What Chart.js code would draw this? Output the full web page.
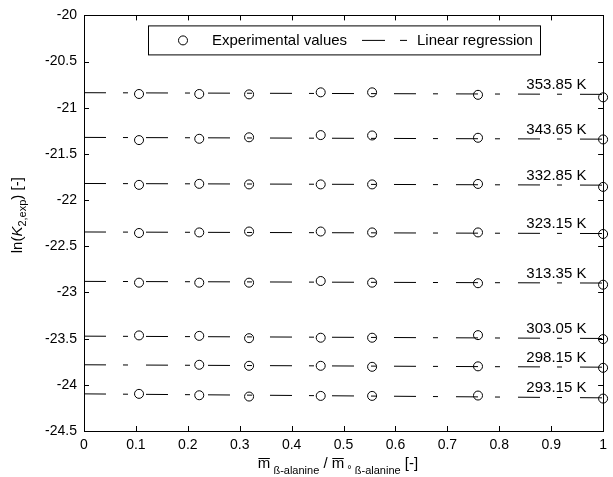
<!DOCTYPE html>
<html>
<head>
<meta charset="utf-8">
<script src="https://cdn.jsdelivr.net/npm/chart.js@4/dist/chart.umd.min.js"></script>
<style>
   html,body{margin:0;padding:0;background:#fff;}
   canvas{display:block;}
</style>
</head>
<body>
<canvas id="myChart" width="613" height="477"></canvas>
<script>
/*------------------------ datos ----------------------------------------------*/
var xValues = [0.106, 0.222, 0.318, 0.456, 0.555, 0.759, 1.0];
var temperaturas = ['353.85 K','343.65 K','332.85 K','323.15 K','313.35 K','303.05 K','298.15 K','293.15 K'];

var ln353 = [-20.851, -20.851, -20.855, -20.833, -20.833, -20.860, -20.887];
var ln343 = [-21.350, -21.336, -21.320, -21.296, -21.300, -21.325, -21.343];
var ln332 = [-21.835, -21.824, -21.830, -21.830, -21.830, -21.825, -21.857];
var ln323 = [-22.356, -22.350, -22.340, -22.340, -22.350, -22.350, -22.367];
var ln313 = [-22.894, -22.894, -22.894, -22.876, -22.894, -22.900, -22.916];
var ln303 = [-23.465, -23.470, -23.495, -23.490, -23.490, -23.462, -23.505];
var ln298 = [null, -23.783, -23.794, -23.794, -23.805, -23.800, -23.816];
var ln293 = [-24.098, -24.113, -24.127, -24.120, -24.120, -24.116, -24.149];

// regresion lineal: valor en x=0 y en x=1
var regInicio = [-20.837, -21.321, -21.820, -22.345, -22.880, -23.473, -23.783, -24.098];
var regFin    = [-20.855, -21.340, -21.838, -22.362, -22.898, -23.498, -23.809, -24.141];

var xTicks = [0, 0.1, 0.2, 0.3, 0.4, 0.5, 0.6, 0.7, 0.8, 0.9, 1];
var yTicks = [-24.5, -24, -23.5, -23, -22.5, -22, -21.5, -21, -20.5, -20];

var series = [ln353, ln343, ln332, ln323, ln313, ln303, ln298, ln293];

var fuente = "'Liberation Sans', Arial, sans-serif";
var guion = [22, 17, 5, 18];

/*------------------------ armando los datasets --------------------------*/
var datasets = [];
series.forEach((s, i) => {
   datasets.push({
      type: 'scatter',
      label: 'exp ' + temperaturas[i],
      data: xValues.map((x, j) => s[j] === null ? null : {x: x, y: s[j]}).filter(p => p !== null),
      pointStyle: 'circle',
      pointRadius: 4.5,
      pointBorderWidth: 1,
      borderColor: '#000',
      backgroundColor: 'rgba(0,0,0,0)',
      showLine: false,
      clip: false
   });
   datasets.push({
      type: 'scatter',
      label: 'reg ' + temperaturas[i],
      data: [{x: 0, y: regInicio[i]}, {x: 1, y: regFin[i]}],
      showLine: true,
      borderColor: '#000',
      borderWidth: 1,
      borderDash: guion,
      pointRadius: 0
   });
});

/*------------------------ plugin: marco, ticks, etiquetas y leyenda --------------------------*/
var extras = {
   id: 'extras',
   afterDraw: (chart) => {
      var ctx = chart.ctx;
      var a = chart.chartArea;
      var xs = chart.scales.x, ys = chart.scales.y;
      ctx.save();
      ctx.strokeStyle = '#000';
      ctx.lineWidth = 1;
      ctx.setLineDash([]);
      ctx.strokeRect(Math.round(a.left) + 0.5, Math.round(a.top) + 0.5, Math.round(a.right - a.left), Math.round(a.bottom - a.top));

      // ticks hacia adentro en los 4 lados
      ctx.beginPath();
      xTicks.forEach(v => {
         var px = Math.round(xs.getPixelForValue(v)) + 0.5;
         ctx.moveTo(px, a.bottom); ctx.lineTo(px, a.bottom - 5);
         ctx.moveTo(px, a.top); ctx.lineTo(px, a.top + 5);
      });
      yTicks.forEach(v => {
         var py = Math.round(ys.getPixelForValue(v)) + 0.5;
         ctx.moveTo(a.left, py); ctx.lineTo(a.left + 5, py);
         ctx.moveTo(a.right, py); ctx.lineTo(a.right - 5, py);
      });
      ctx.stroke();

      // etiquetas de temperatura
      ctx.fillStyle = '#000';
      ctx.font = '15px ' + fuente;
      ctx.textAlign = 'center';
      ctx.textBaseline = 'alphabetic';
      temperaturas.forEach((t, i) => {
         var xv = 0.91;
         var yv = regInicio[i] + (regFin[i] - regInicio[i]) * xv;
         ctx.fillText(t, xs.getPixelForValue(xv), ys.getPixelForValue(yv) - 5);
      });

      // leyenda con caja
      var lx = a.left + 64, ly = a.top + 10, lw = 392, lh = 29;
      ctx.fillStyle = '#fff';
      ctx.fillRect(lx, ly, lw, lh);
      ctx.strokeRect(lx + 0.5, ly + 0.5, lw, lh);
      var cy = ly + lh / 2 + 0.5;
      ctx.beginPath();
      ctx.arc(lx + 35, cy, 4.5, 0, Math.PI * 2);
      ctx.stroke();
      ctx.fillStyle = '#000';
      ctx.textAlign = 'left';
      ctx.textBaseline = 'middle';
      ctx.fillText('Experimental values', lx + 64, cy);
      ctx.beginPath();
      ctx.moveTo(lx + 214, cy); ctx.lineTo(lx + 237, cy);
      ctx.moveTo(lx + 252, cy); ctx.lineTo(lx + 259, cy);
      ctx.stroke();
      ctx.fillText('Linear regression', lx + 269, cy);

      // titulo eje y: ln(K2,exp) [-]
      ctx.save();
      ctx.translate(22, (a.top + a.bottom) / 2 - 8);
      ctx.rotate(-Math.PI / 2);
      var partesY = [
         {t: 'ln(', f: '15px ' + fuente, dy: 0},
         {t: 'K', f: 'italic 15px ' + fuente, dy: 0},
         {t: '2,exp', f: '11px ' + fuente, dy: 4},
         {t: ') [-]', f: '15px ' + fuente, dy: 0}
      ];
      dibujarPartes(ctx, partesY, 0, 0);
      ctx.restore();

      // titulo eje x
      var partesX = [
         {t: 'm', f: '15px ' + fuente, dy: 0, barra: true},
         {t: ' ß-alanine', f: '11px ' + fuente, dy: 6},
         {t: ' / ', f: '15px ' + fuente, dy: 0},
         {t: 'm', f: '15px ' + fuente, dy: 0, barra: true},
         {t: ' ° ', f: '11px ' + fuente, dy: 5},
         {t: 'ß-alanine', f: '11px ' + fuente, dy: 6},
         {t: ' [-]', f: '15px ' + fuente, dy: 0}
      ];
      dibujarPartes(ctx, partesX, 338, 468);
      ctx.restore();
   }
};

// dibuja un texto con partes (subindices, cursiva), centrado en cx y con linea base cy
var dibujarPartes = (ctx, partes, cx, cy) => {
   var total = 0;
   partes.forEach(p => { ctx.font = p.f; total += ctx.measureText(p.t).width; });
   var x = cx - total / 2;
   ctx.textAlign = 'left';
   ctx.textBaseline = 'alphabetic';
   ctx.fillStyle = '#000';
   partes.forEach(p => {
      ctx.font = p.f;
      var w = ctx.measureText(p.t).width;
      ctx.fillText(p.t, x, cy + p.dy);
      if (p.barra) {
         ctx.beginPath();
         ctx.moveTo(x + 0.5, cy - 9.5);
         ctx.lineTo(x + w - 0.5, cy - 9.5);
         ctx.stroke();
      }
      x += w;
   });
};

/*------------------------ creacion del grafico --------------------------*/
var miCanvas = document.getElementById('myChart').getContext('2d');
var chart = new Chart(miCanvas, {
   type: 'scatter',
   data: {datasets: datasets},
   options: {
      responsive: false,
      animation: false,
      layout: {padding: {left: 0, right: 6, top: 15, bottom: 0}},
      plugins: {legend: {display: false}, tooltip: {enabled: false}},
      scales: {
         x: {
            type: 'linear', min: 0, max: 1,
            afterFit: (s) => { s.height = 46; },
            afterBuildTicks: (s) => { s.ticks = xTicks.map(v => ({value: v})); },
            grid: {display: false, drawTicks: false},
            border: {display: false},
            ticks: {
               color: '#000', padding: 6, maxRotation: 0, autoSkip: false,
               font: {family: fuente, size: 14},
               callback: (v) => String(Math.round(v * 10) / 10)
            }
         },
         y: {
            type: 'linear', min: -24.5, max: -20,
            afterFit: (s) => { s.width = 84; },
            afterBuildTicks: (s) => { s.ticks = yTicks.map(v => ({value: v})); },
            grid: {display: false, drawTicks: false},
            border: {display: false},
            ticks: {
               color: '#000', padding: 7, autoSkip: false,
               font: {family: fuente, size: 14},
               callback: (v) => String(Math.round(v * 10) / 10)
            }
         }
      }
   },
   plugins: [extras]
});
</script>
</body>
</html>
